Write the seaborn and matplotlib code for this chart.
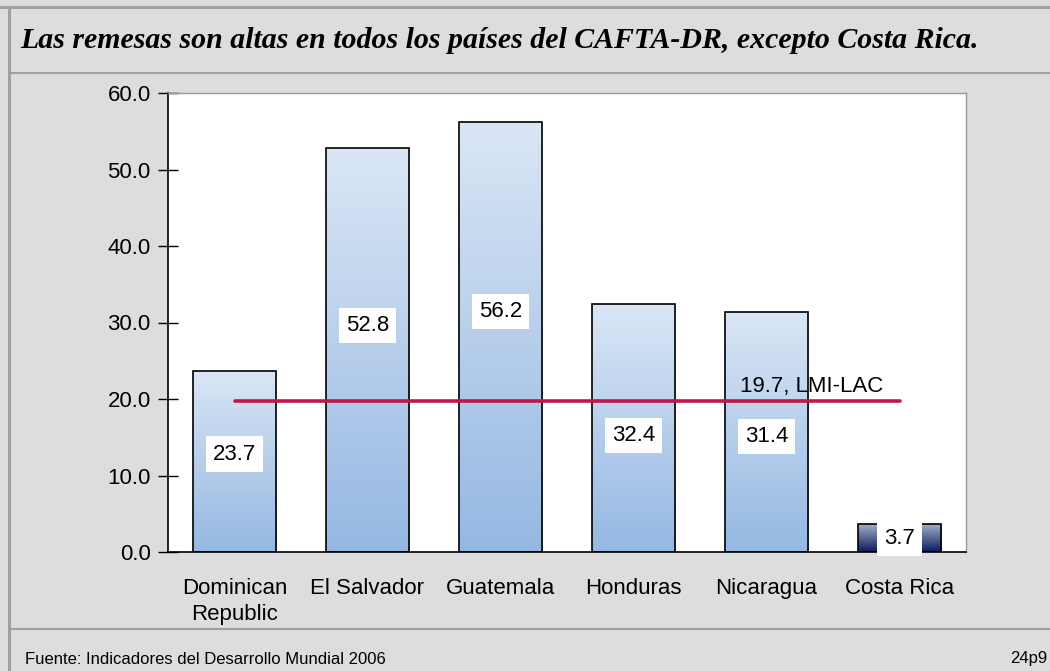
import numpy as np
import matplotlib
matplotlib.use('Agg')
import matplotlib.pyplot as plt
import seaborn as sns
from matplotlib.lines import Line2D
from matplotlib.colors import LinearSegmentedColormap

# data
countries = ['Dominican\nRepublic', 'El Salvador', 'Guatemala', 'Honduras', 'Nicaragua', 'Costa Rica']
remesas = [23.7, 52.8, 56.2, 32.4, 31.4, 3.7]
lmi_lac = 19.7
lmi_label = '19.7, LMI-LAC'
title = 'Las remesas son altas en todos los países del CAFTA-DR, excepto Costa Rica.'
source = 'Fuente: Indicadores del Desarrollo Mundial 2006'
slide_id = '24p9'

# where the value boxes sit inside each bar (fraction of bar height)
label_frac = [0.54, 0.56, 0.56, 0.47, 0.48, 0.49]

sns.set_theme(style='white')
plt.rcParams['font.family'] = ['Liberation Sans', 'DejaVu Sans']
plt.rcParams['text.color'] = 'black'
plt.rcParams['xtick.color'] = 'black'
plt.rcParams['ytick.color'] = 'black'

fig = plt.figure(figsize=(10.5, 6.71), dpi=100, facecolor='#dddddd')
ax = fig.add_axes([168 / 1050, 1 - 552 / 671, (966 - 168) / 1050, (552 - 93) / 671])
ax.set_facecolor('white')

sns.barplot(x=list(range(len(countries))), y=remesas, ax=ax, width=0.63,
            color='white', edgecolor='black', linewidth=1.2)

light = LinearSegmentedColormap.from_list('light', ['#95b8e2', '#dae6f5'])
dark = LinearSegmentedColormap.from_list('dark', ['#0b1a5c', '#a7b5cc'])
grad = np.linspace(0, 1, 256).reshape(-1, 1)
for i, patch in enumerate(ax.patches):
    patch.set_facecolor('none')
    patch.set_zorder(3)
    x0, y0 = patch.get_x(), patch.get_y()
    w, h = patch.get_width(), patch.get_height()
    cmap = dark if countries[i] == 'Costa Rica' else light
    im = ax.imshow(grad, cmap=cmap, origin='lower', aspect='auto',
                   extent=[x0, x0 + w, y0, y0 + h], zorder=2)
    im.set_clip_path(patch)

# LMI-LAC reference line
ax.plot([0, len(countries) - 1], [lmi_lac, lmi_lac], color='#c4154a', lw=2.6, zorder=4)
ax.text(3.8, lmi_lac + 0.5, lmi_label, fontsize=16, ha='left', va='bottom', zorder=5)

for i, v in enumerate(remesas):
    ax.text(i, v * label_frac[i], f'{v:.1f}', fontsize=16, ha='center', va='center', zorder=6,
            bbox=dict(boxstyle='square,pad=0.32', fc='white', ec='none'))

ax.set_xlim(-0.5, len(countries) - 0.5)
ax.set_ylim(0, 60)
ax.set_yticks(np.arange(0, 61, 10))
ax.set_yticklabels([f'{t:.1f}' for t in np.arange(0, 61, 10)], fontsize=16)
ax.set_xticks(range(len(countries)))
ax.set_xticklabels(countries, fontsize=16, linespacing=1.3)
ax.set_xticks(np.arange(-0.5, len(countries)), minor=True)
ax.tick_params(axis='x', which='major', length=0, pad=19)
ax.tick_params(axis='x', which='minor', length=14, width=1, direction='inout', color='black')
ax.tick_params(axis='y', length=14, width=1, direction='inout', color='black', pad=5.5, left=True)
ax.set_xlabel('')
ax.set_ylabel('')

for s in ['left', 'bottom']:
    ax.spines[s].set_color('black')
    ax.spines[s].set_linewidth(1.2)
for s in ['top', 'right']:
    ax.spines[s].set_color('#999999')
    ax.spines[s].set_linewidth(1)

# slide frame
frame = '#a0a0a0'
fig.add_artist(Line2D([0, 1], [1 - 7 / 671] * 2, color=frame, lw=2.2))
fig.add_artist(Line2D([9 / 1050] * 2, [0, 1 - 7 / 671], color=frame, lw=2.2))
fig.add_artist(Line2D([9 / 1050, 1], [1 - 73 / 671] * 2, color=frame, lw=1.5))
fig.add_artist(Line2D([9 / 1050, 1], [1 - 629 / 671] * 2, color=frame, lw=1.5))

fig.text(20 / 1050, 1 - 40 / 671, title, fontsize=21.5, fontweight='bold', fontstyle='italic',
         family=['Liberation Serif', 'DejaVu Serif'], ha='left', va='center')
fig.text(25 / 1050, 1 - 659 / 671, source, fontsize=12, ha='left', va='center')
fig.text(1010 / 1050, 1 - 659 / 671, slide_id, fontsize=12, ha='left', va='center')

fig.savefig('out.png', dpi=100, facecolor=fig.get_facecolor())
